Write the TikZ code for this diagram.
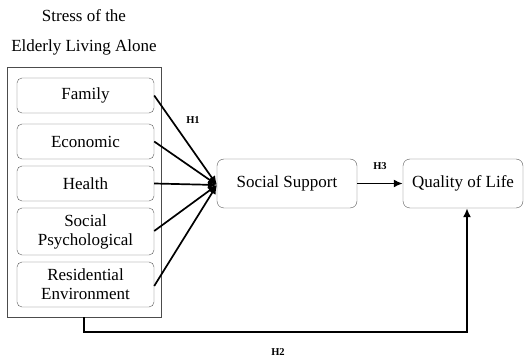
\documentclass[tikz,border=0pt]{standalone}
\usepackage{fontspec}
\setmainfont{Liberation Serif}
\usetikzlibrary{positioning, arrows.meta}

\tikzset{
    factor/.style={draw=black!65, rounded corners=5pt, minimum width=137pt, align=center, font=\fontsize{17}{19}\selectfont, inner sep=0pt},
    construct/.style={draw=black!65, rounded corners=7pt, minimum height=49pt, align=center, font=\fontsize{17}{19}\selectfont},
    path/.style={-{Latex[length=9pt, width=8pt]}, line width=1.7pt},
    hyp/.style={font=\fontsize{10.5}{12}\selectfont\bfseries}
}

\begin{document}
\begin{tikzpicture}[x=1pt, y=-1pt]
        \useasboundingbox (0,0) rectangle (528,358);
        \node [align=center, font=\fontsize{17}{30}\selectfont] (title) at (84,32) {Stress of the\\Elderly Living Alone};
        \node [draw=black!70, line width=0.8pt, minimum width=154pt, minimum height=250pt] (stress) at (84,192) {};
        \node [factor, minimum height=35pt] (family) at (85.5,95.5) {Family};
        \node [factor, minimum height=35pt] (economic) at (85.5,141.5) {Economic};
        \node [factor, minimum height=35pt] (health) at (85.5,183.5) {Health};
        \node [factor, minimum height=47pt] (psych) at (85.5,231.5) {Social\\Psychological};
        \node [factor, minimum height=45pt] (resid) at (85.5,284.5) {Residential\\Environment};
        \node [construct, minimum width=140pt] (support) at (287,183.5) {Social Support};
        \node [construct, minimum width=120pt] (quality) at (463,183.5) {Quality of Life};
        \coordinate (tip) at (217,185);
        \coordinate (corner) at (467,332);
        \draw [path] (family.east) to (tip);
        \draw [path] (economic.east) to (tip);
        \draw [path] (health.east) to (tip);
        \draw [path] ([yshift=0.5pt]psych.east) to (tip);
        \draw [path] ([yshift=-1.5pt]resid.east) to (tip);
        \draw [path] (support) to (quality);
        \draw [path] (stress.south) |- (corner) -- (corner |- quality.south);
        \node [hyp] (h1) at (193,120) {H1};
        \node [hyp] (h3) at (380,166) {H3};
        \node [hyp] (h2) at (278,352) {H2};
    \end{tikzpicture}
\end{document}
